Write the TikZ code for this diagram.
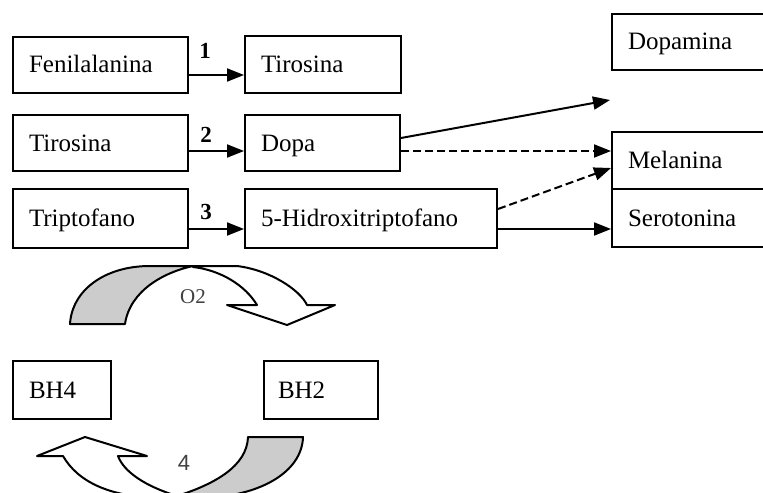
\documentclass[tikz,border=0pt]{standalone}
\usepackage{fontspec}
\setmainfont{Liberation Serif}
\newfontfamily\sansfnt{Liberation Sans}
\usetikzlibrary{arrows.meta}
\begin{document}
\begin{tikzpicture}[x=0.5pt,y=-0.5pt,
  boxnode/.style={draw,line width=1pt,rectangle,anchor=north west,inner xsep=8pt,inner ysep=0pt,
    align=left,text height=10.5pt,text depth=2.5pt,font=\fontsize{12.5}{15}\selectfont},
  arr/.style={line width=1pt,-{Triangle[length=8.5pt,width=6.5pt]}},
  darr/.style={arr,dash pattern=on 4pt off 2pt},
  steplabel/.style={font=\fontsize{11.5}{13}\selectfont\bfseries,inner sep=0pt},
  ribbon/.style={draw,line width=1pt,line join=round},
  greyribbon/.style={ribbon,fill=black!20},
  whiteribbon/.style={ribbon,fill=white},
  cyclabel/.style={text=black!75,inner sep=0pt}]
\useasboundingbox (0,0) rectangle (763,492);
\begin{scope}
\clip (0,0) rectangle (763,492);
% row 1
\node[boxnode,text width=71.5pt,minimum height=28pt] (fen) at (12,36) {Fenilalanina};
\node[boxnode,text width=62pt,minimum height=28.5pt] (tir1) at (244,35) {Tirosina};
% row 2
\node[boxnode,text width=71.5pt,minimum height=28pt] (tir2) at (12,114) {Tirosina};
\node[boxnode,text width=61.5pt,minimum height=28pt] (dopa) at (244,114) {Dopa};
% row 3
\node[boxnode,text width=71.5pt,minimum height=29.5pt] (trip) at (12,188) {Triptofano};
\node[boxnode,text width=110pt,minimum height=29.5pt] (hidr) at (244,188) {5-Hidroxitriptofano};
% right column
\node[boxnode,text width=74pt,minimum height=28pt] (dopam) at (611,13) {Dopamina};
\node[boxnode,text width=74pt,minimum height=28.5pt] (mela) at (611,131) {Melanina};
\node[boxnode,text width=74pt,minimum height=29pt] (sero) at (611,188) {Serotonina};
% cofactors
\node[boxnode,text width=33pt,minimum height=29pt] (bh4) at (12,360) {BH4};
\node[boxnode,text width=43pt,minimum height=29pt,inner xsep=7pt] (bh2) at (263,360) {BH2};
% step arrows
\draw[arr] ([yshift=-5pt]fen.east) -- ([yshift=-5.25pt]tir1.west);
\draw[arr] ([yshift=-4pt]tir2.east) -- ([yshift=-4pt]dopa.west);
\draw[arr] ([yshift=-5.25pt]trip.east) -- ([yshift=-5.25pt]hidr.west);
\node[steplabel] (l1) at (205,51) {1};
\node[steplabel] (l2) at (206,135) {2};
\node[steplabel] (l3) at (206,212) {3};
% products
\coordinate (dopend) at (610,100);
\draw[arr] ([yshift=2.5pt]dopa.east) -- (dopend);
\draw[darr] ([yshift=-4pt]dopa.east) -- ([yshift=4.75pt]mela.west);
\draw[darr] ([yshift=4.75pt]hidr.east) -- ([yshift=-3.75pt]mela.west);
\draw[arr] ([yshift=-5.25pt]hidr.east) -- ([yshift=-5.5pt]sero.west);
% top curved arrow (O2)
\draw[greyribbon] (70,324) .. controls (72,290) and (105,266) .. (150,266) -- (193,266)
  .. controls (165,272) and (130,290) .. (125,324) -- cycle;
\draw[whiteribbon] (193,266) -- (237,266) .. controls (270,270) and (300,290) .. (307,305)
  -- (335,305) -- (287,325) -- (227,305) -- (257,305)
  .. controls (245,285) and (220,270) .. (193,267) -- cycle;
\node[cyclabel,font=\fontsize{10.5}{12}\selectfont] (o2) at (193,297) {O2};
% bottom curved arrow (4)
\draw[greyribbon] (248,437) -- (303,437) .. controls (302,472) and (260,497) .. (200,498)
  -- (177,496) .. controls (215,484) and (247,466) .. (248,437) -- cycle;
\draw[whiteribbon] (63,456) .. controls (78,482) and (110,497) .. (160,498) -- (177,496)
  .. controls (145,486) and (124,472) .. (118,456) -- (147,456) -- (85,437) -- (37,456) -- cycle;
\node[cyclabel,font=\sansfnt\fontsize{11}{13}\selectfont] (four) at (184,463) {4};
\end{scope}
\end{tikzpicture}
\end{document}
